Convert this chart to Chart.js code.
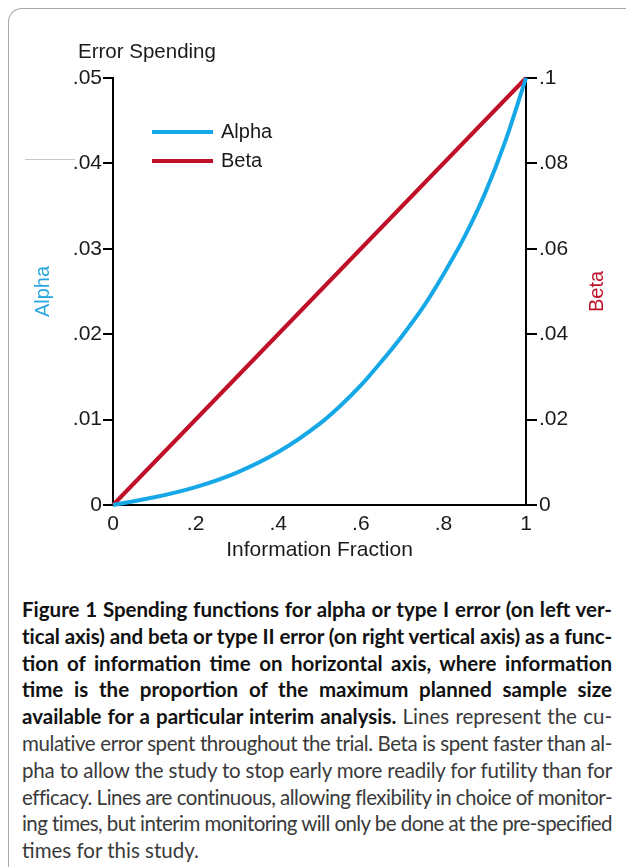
<!DOCTYPE html>
<html>
<head>
<meta charset="utf-8">
<script src="https://cdn.jsdelivr.net/npm/chart.js@4.4.1/dist/chart.umd.min.js"></script>
<style>
  html, body { margin: 0; padding: 0; background: #fff; }
  body { width: 626px; height: 867px; position: relative; overflow: hidden; }
  #frame { position: absolute; left: 8px; top: 8px; width: 700px; height: 900px;
           border-left: 1px solid #a8a8a8; border-top: 1px solid #a8a8a8; border-top-left-radius: 14px; }
  #stray { position: absolute; left: 25px; top: 159px; width: 50px; height: 1px; background: #c8c8c8; }
  #wrap { position: absolute; left: 0; top: 0; width: 626px; height: 570px; }
  #caption { position: absolute; left: 22px; top: 596px; width: 590px;
             font-family: Lato, "Liberation Sans", sans-serif; font-size: 20.5px;
             line-height: 26.8px; color: #3a3a3a; }
  #caption .l { text-align: justify; text-align-last: justify; white-space: nowrap; }
  #caption .l.last { text-align-last: left; }
  #caption b { color: #111; font-weight: 700; }
</style>
</head>
<body>
<div id="frame"></div>
<div id="wrap"><canvas id="c" width="626" height="570"></canvas></div>
<div id="stray"></div>
<div id="caption">
  <div class="l"><b>Figure 1 Spending functions for alpha or type I error (on left ver-</b></div>
  <div class="l"><b>tical axis) and beta or type II error (on right vertical axis) as a func-</b></div>
  <div class="l"><b>tion of information time on horizontal axis, where information</b></div>
  <div class="l"><b>time is the proportion of the maximum planned sample size</b></div>
  <div class="l"><b>available for a particular interim analysis.</b> Lines represent the cu-</div>
  <div class="l">mulative error spent throughout the trial. Beta is spent faster than al-</div>
  <div class="l">pha to allow the study to stop early more readily for futility than for</div>
  <div class="l">efficacy. Lines are continuous, allowing flexibility in choice of monitor-</div>
  <div class="l">ing times, but interim monitoring will only be done at the pre-specified</div>
  <div class="l last">times for this study.</div>
</div>
<script>
// ---- data ----
const alphaFraction = [0, 0.1, 0.2, 0.3, 0.4, 0.5, 0.55, 0.6, 0.65, 0.7, 0.75, 0.8, 0.85, 0.9, 0.95, 1];
const alphaSpent    = [0, 0.0009, 0.0021, 0.0038, 0.0062, 0.0095, 0.0116, 0.0140, 0.0168, 0.0198, 0.0231, 0.0270, 0.0313, 0.0364, 0.0426, 0.05];
const betaFraction  = [0, 0.5, 1];
const betaSpent     = [0, 0.05, 0.1];
const seriesNames   = ["Alpha", "Beta"];
const xTicks        = [0, 0.2, 0.4, 0.6, 0.8, 1];
const alphaTicks    = [0, 0.01, 0.02, 0.03, 0.04, 0.05];
const betaTicks     = [0, 0.02, 0.04, 0.06, 0.08, 0.1];
const chartTitle    = "Error Spending";
const xTitle        = "Information Fraction";

const BLUE = "#16a8e6", RED = "#bf1028";
const BLUE_TXT = "#27a6df", RED_TXT = "#c0142c";
const FONT = '"Liberation Sans", Arial, sans-serif';

// fit caption lines to the column width
document.querySelectorAll("#caption .l").forEach(el => {
  el.style.display = "inline-block";
  const w = el.getBoundingClientRect().width;
  el.style.display = "block";
  const n = el.textContent.length;
  if (w > 589) el.style.letterSpacing = (-(w - 589) / n).toFixed(3) + "px";
});

function fmt(v) {
  if (Math.abs(v) < 1e-9) return "0";
  if (Math.abs(v - 1) < 1e-9) return "1";
  return String(+v.toFixed(3)).replace(/^0\./, ".");
}
function fixedTicks(list) {
  return function (scale) { scale.ticks = list.map(v => ({ value: v })); };
}

const overlay = {
  id: "overlay",
  afterDraw(chart) {
    const ctx = chart.ctx, a = chart.chartArea;
    ctx.save();
    ctx.fillStyle = "#1a1a1a";
    ctx.font = "20.5px " + FONT;
    ctx.textBaseline = "alphabetic";
    ctx.textAlign = "left";
    ctx.fillText(chartTitle, 78, 58);
    // right-axis title, reading bottom-to-top like the left one
    ctx.save();
    ctx.translate(chart.width - 29, (a.top + a.bottom) / 2);
    ctx.rotate(-Math.PI / 2);
    ctx.fillStyle = RED_TXT;
    ctx.font = "20px " + FONT;
    ctx.textAlign = "center";
    ctx.textBaseline = "middle";
    ctx.fillText(seriesNames[1], 0, 0);
    ctx.restore();
    // legend inside plot
    chart.data.datasets.forEach((ds, i) => {
      const y = a.top + 54 + i * 29;
      ctx.strokeStyle = ds.borderColor;
      ctx.lineWidth = 4;
      ctx.beginPath();
      ctx.moveTo(a.left + 39, y);
      ctx.lineTo(a.left + 100, y);
      ctx.stroke();
      ctx.fillStyle = "#1a1a1a";
      ctx.font = "20px " + FONT;
      ctx.textAlign = "left";
      ctx.textBaseline = "middle";
      ctx.fillText(ds.label, a.left + 108, y);
    });
    ctx.restore();
  }
};

new Chart(document.getElementById("c"), {
  type: "line",
  data: {
    datasets: [
      { label: seriesNames[0], data: alphaFraction.map((x, i) => ({ x, y: alphaSpent[i] })),
        yAxisID: "y", borderColor: BLUE, borderWidth: 4, pointRadius: 0,
        cubicInterpolationMode: "monotone", clip: false },
      { label: seriesNames[1], data: betaFraction.map((x, i) => ({ x, y: betaSpent[i] })),
        yAxisID: "y1", borderColor: RED, borderWidth: 4, pointRadius: 0, clip: false }
    ]
  },
  options: {
    responsive: false, animation: false, devicePixelRatio: 1,
    layout: { padding: { top: 78, left: 0, right: 0, bottom: 0 } },
    plugins: { legend: { display: false }, tooltip: { enabled: false }, title: { display: false } },
    scales: {
      x: {
        type: "linear", min: 0, max: 1,
        afterBuildTicks: fixedTicks(xTicks),
        afterFit(s) { s.height = 65; },
        grid: { display: true, drawOnChartArea: false, drawTicks: false },
        border: { display: true, color: "#000", width: 2 },
        ticks: { color: "#1a1a1a", font: { family: FONT, size: 21 }, padding: 7, callback: v => fmt(v), maxRotation: 0 },
        title: { display: true, text: xTitle, color: "#1a1a1a", font: { family: FONT, size: 21, lineHeight: 1.2 }, padding: { top: 0, bottom: 7 } }
      },
      y: {
        type: "linear", position: "left", min: 0, max: 0.05,
        afterBuildTicks: fixedTicks(alphaTicks),
        afterFit(s) { s.width = 113; },
        grid: { display: true, drawOnChartArea: false, drawTicks: true, tickLength: 10, color: "#000", lineWidth: 2 },
        border: { display: true, color: "#000", width: 2 },
        ticks: { color: "#1a1a1a", font: { family: FONT, size: 21 }, padding: 1, callback: v => fmt(v) },
        title: { display: true, text: seriesNames[0], color: BLUE_TXT, font: { family: FONT, size: 20, lineHeight: 1.2 }, padding: { top: 31, bottom: 0 } }
      },
      y1: {
        type: "linear", position: "right", min: 0, max: 0.1,
        afterBuildTicks: fixedTicks(betaTicks),
        afterFit(s) { s.width = 100; },
        grid: { display: true, drawOnChartArea: false, drawTicks: true, tickLength: 11, color: "#000", lineWidth: 2 },
        border: { display: true, color: "#000", width: 2 },
        ticks: { color: "#1a1a1a", font: { family: FONT, size: 21 }, padding: 2, callback: v => fmt(v) },
        title: { display: false, text: seriesNames[1] }
      }
    }
  },
  plugins: [overlay]
});
</script>
</body>
</html>
